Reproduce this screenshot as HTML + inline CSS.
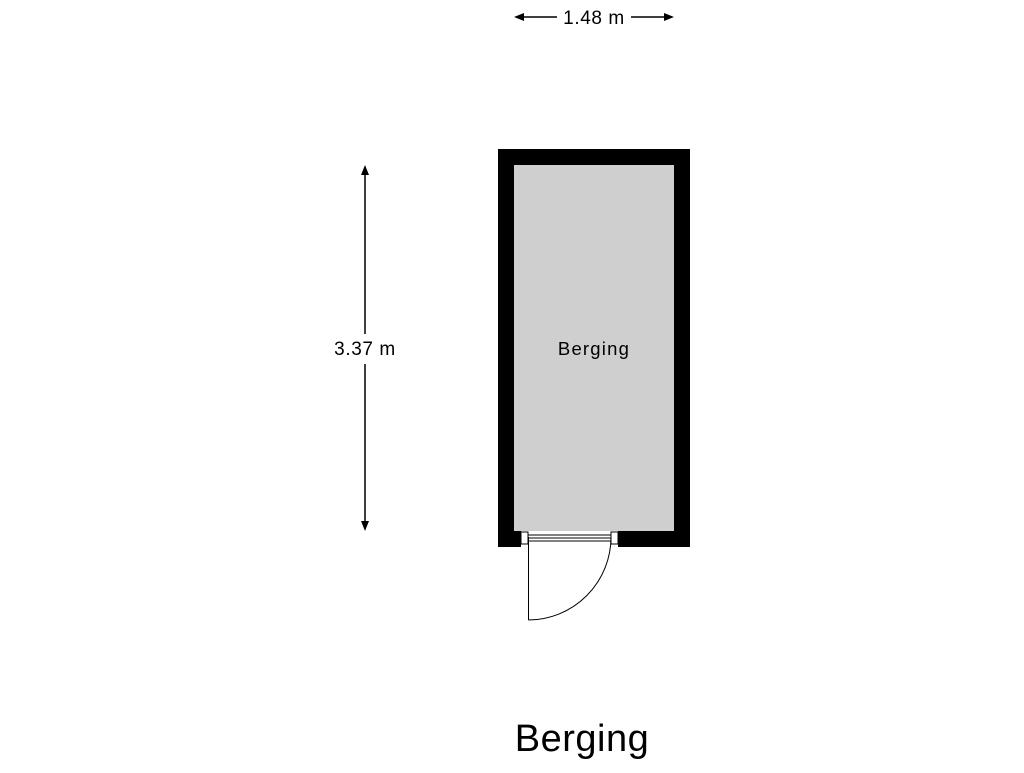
<!DOCTYPE html>
<html><head><style>body{margin:0;background:#fff}</style></head><body>
<svg width="1024" height="768" xmlns="http://www.w3.org/2000/svg" font-family="Liberation Sans, Arial, sans-serif">
<rect x="498" y="149" width="192" height="398" fill="#000"/>
<rect x="514" y="165" width="160" height="366" fill="#cfcfcf"/>
<rect x="521" y="531" width="97" height="16" fill="#fff"/>
<rect x="521" y="532" width="7" height="12" fill="#fff" stroke="#000" stroke-width="1"/>
<rect x="611" y="532" width="7" height="12" fill="#fff" stroke="#000" stroke-width="1"/>
<line x1="528" y1="535" x2="611" y2="535" stroke="#000" stroke-width="1"/>
<line x1="528" y1="538" x2="611" y2="538" stroke="#000" stroke-width="1"/>
<line x1="528" y1="541" x2="611" y2="541" stroke="#000" stroke-width="1"/>
<line x1="528.5" y1="537" x2="528.5" y2="620" stroke="#000" stroke-width="1"/>
<path d="M528.5 620 A83 83 0 0 0 611 537" fill="none" stroke="#000" stroke-width="1"/>
<text x="594" y="355" font-size="18.5" letter-spacing="1.2" text-anchor="middle" fill="#000">Berging</text>
<line x1="522" y1="17" x2="557" y2="17" stroke="#000" stroke-width="1.5"/>
<line x1="631" y1="17" x2="666" y2="17" stroke="#000" stroke-width="1.5"/>
<polygon points="514,17 524,13 524,21" fill="#000"/>
<polygon points="674,17 664,13 664,21" fill="#000"/>
<text x="594" y="24" font-size="19" letter-spacing="0.6" text-anchor="middle">1.48 m</text>
<line x1="365" y1="173" x2="365" y2="334" stroke="#000" stroke-width="1.5"/>
<line x1="365" y1="364" x2="365" y2="523" stroke="#000" stroke-width="1.5"/>
<polygon points="365,165 361,175 369,175" fill="#000"/>
<polygon points="365,531 361,521 369,521" fill="#000"/>
<text x="365" y="355" font-size="19" letter-spacing="0.6" text-anchor="middle">3.37 m</text>
<text x="582" y="751" font-size="38" letter-spacing="0.5" text-anchor="middle">Berging</text>
</svg>
</body></html>
